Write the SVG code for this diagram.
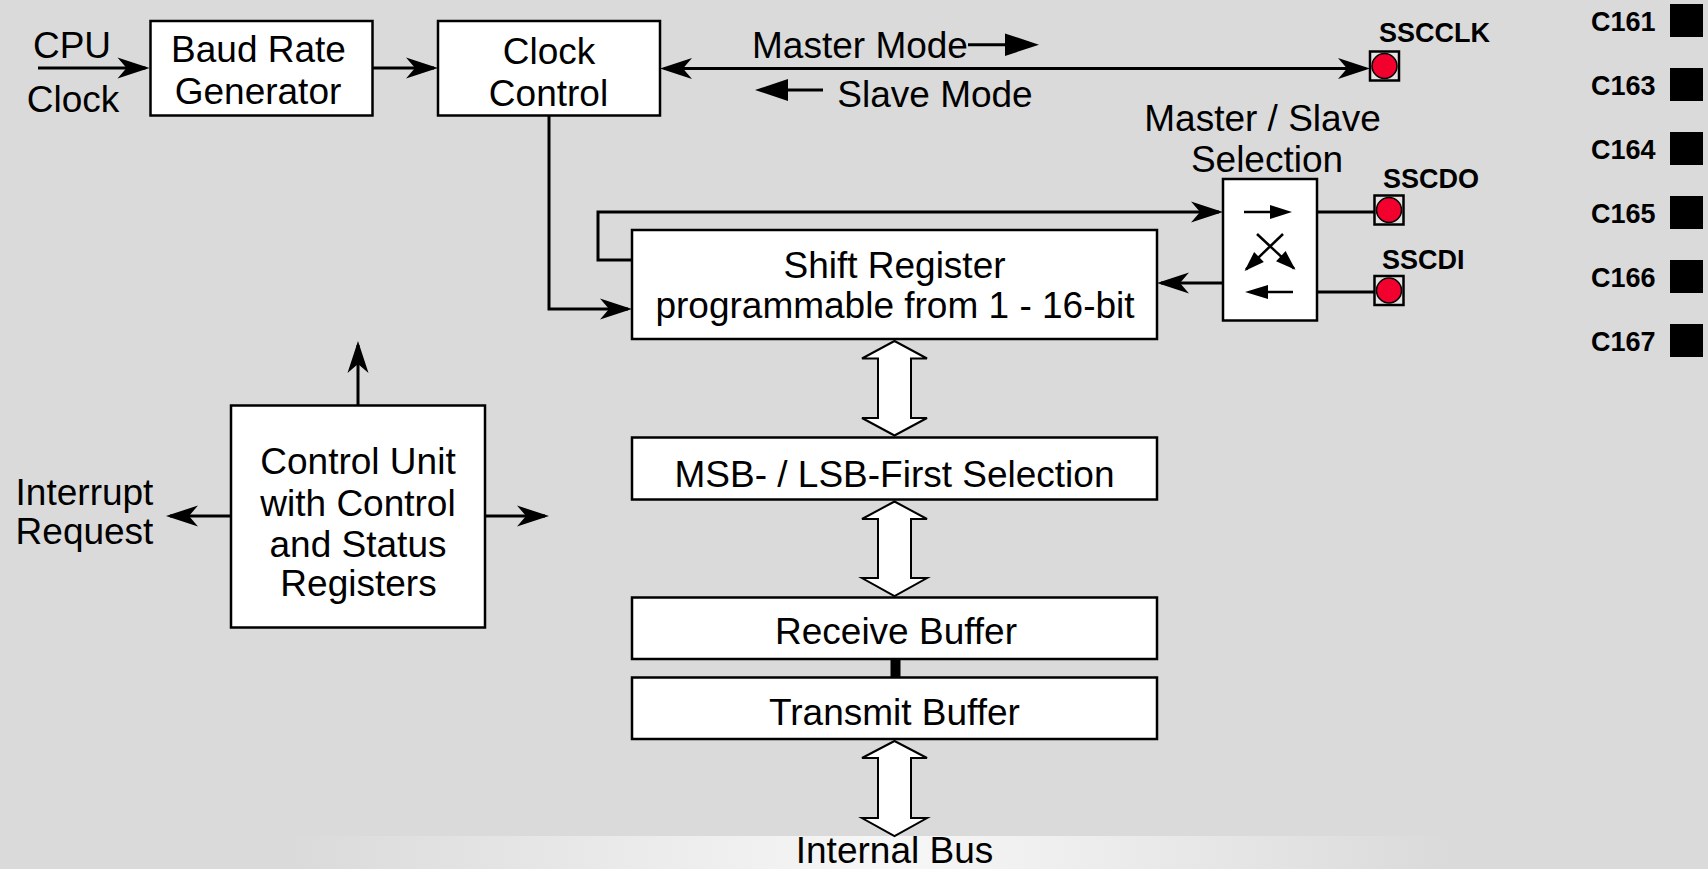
<svg xmlns="http://www.w3.org/2000/svg" width="1708" height="869" viewBox="0 0 1708 869">
  <style>
    .box { fill: #ffffff; stroke: #000000; stroke-width: 2.5; }
    .lbl { font-family: "Liberation Sans", Arial, sans-serif; font-size: 37px; fill: #000000; text-anchor: middle; }
    .pinlbl { font-family: "Liberation Sans", Arial, sans-serif; font-size: 27px; font-weight: bold; fill: #000000; }
    .devlbl { font-family: "Liberation Sans", Arial, sans-serif; font-size: 27px; font-weight: bold; fill: #000000; }
    .wire { fill: none; stroke: #000000; stroke-width: 3; }
    .thin { fill: none; stroke: #000000; stroke-width: 2.5; }
    .bus { fill: #ffffff; stroke: #000000; stroke-width: 2; stroke-linejoin: miter; }
    .pad { fill: #e4e4e4; stroke: #000000; stroke-width: 2.5; }
    .dot { fill: #f2002e; stroke: #000000; stroke-width: 1.5; }
  </style>
  <defs>
    <!-- barbed arrowhead; tip sits 4 units past the line end -->
    <marker id="barb" viewBox="-30 -12 36 24" refX="0" refY="0" markerWidth="36" markerHeight="24" orient="auto-start-reverse" markerUnits="userSpaceOnUse">
      <path d="M4,0 L-28,-10.5 L-19,0 L-28,10.5 Z" fill="#000000"/>
    </marker>
    <marker id="tri" viewBox="-22 -9 26 18" refX="0" refY="0" markerWidth="26" markerHeight="18" orient="auto" markerUnits="userSpaceOnUse">
      <path d="M2,0 L-18,-7 L-18,7 Z" fill="#000000"/>
    </marker>
    <linearGradient id="band" gradientUnits="userSpaceOnUse" x1="290" y1="0" x2="1450" y2="0">
      <stop offset="0" stop-color="#dadada"/>
      <stop offset="0.52" stop-color="#f7f7f7"/>
      <stop offset="1" stop-color="#dadada"/>
    </linearGradient>
  </defs>

  <!-- page background and bus band -->
  <rect x="0" y="0" width="1708" height="869" fill="#dadada"/>
  <rect x="0" y="836" width="1708" height="33" fill="url(#band)"/>

  <!-- connectors -->
  <g id="connectors">
    <path class="wire" d="M38,68 H145.5" marker-end="url(#barb)"/>
    <path class="wire" d="M372.5,68 H434" marker-end="url(#barb)"/>
    <path class="wire" d="M664,68.5 H1366" marker-start="url(#barb)" marker-end="url(#barb)"/>
    <path class="wire" d="M549,115.5 V309 H628" marker-end="url(#barb)"/>
    <path class="wire" d="M631.5,260 H598 V212 H1219" marker-end="url(#barb)"/>
    <path class="wire" d="M1223,283 H1161" marker-end="url(#barb)"/>
    <path class="wire" d="M1317,212 H1374"/>
    <path class="wire" d="M1317,292 H1374"/>
    <path class="wire" d="M358,405.5 V345" marker-end="url(#barb)"/>
    <path class="wire" d="M231,516 H170" marker-end="url(#barb)"/>
    <path class="wire" d="M485,516 H545" marker-end="url(#barb)"/>

    <!-- mode direction hints -->
    <path class="wire" d="M968,44.7 H1006"/>
    <polygon points="1005,33.5 1039,44.7 1005,56" fill="#000000"/>
    <polygon points="755,90 788,79 788,101" fill="#000000"/>
    <path class="wire" d="M788,90 H823"/>

    <!-- hollow bus arrows -->
    <polygon class="bus" points="894.5,341 927,358.5 911,358.5 911,418 927,418 894.5,435.5 862,418 878,418 878,358.5 862,358.5"/>
    <polygon class="bus" points="894.5,501.5 927,519 911,519 911,578 927,578 894.5,596 862,578 878,578 878,519 862,519"/>
    <polygon class="bus" points="894.5,741 927,758 911,758 911,818 927,818 894.5,836 862,818 878,818 878,758 862,758"/>

    <!-- receive / transmit buffer link -->
    <rect x="890.5" y="659" width="10" height="18.5" fill="#000000"/>
  </g>

  <!-- blocks -->
  <g id="cpu-clock">
    <text class="lbl" x="72" y="58">CPU</text>
    <text class="lbl" x="73" y="112">Clock</text>
  </g>

  <g id="baud-rate-generator">
    <rect class="box" x="150.5" y="21" width="222" height="94.5"/>
    <text class="lbl" x="258.5" y="62">Baud Rate</text>
    <text class="lbl" x="258" y="104">Generator</text>
  </g>

  <g id="clock-control">
    <rect class="box" x="438" y="21" width="222" height="94.5"/>
    <text class="lbl" x="549" y="64">Clock</text>
    <text class="lbl" x="548.5" y="106">Control</text>
  </g>

  <g id="mode-labels">
    <text class="lbl" x="860" y="58">Master Mode</text>
    <text class="lbl" x="935" y="107">Slave Mode</text>
  </g>

  <g id="master-slave-selection">
    <text class="lbl" x="1262.5" y="130.5">Master / Slave</text>
    <text class="lbl" x="1267" y="171.5">Selection</text>
    <rect class="box" x="1223" y="179" width="94" height="141.5"/>
    <path class="thin" d="M1244,212 H1271"/>
    <polygon points="1270,205 1292,212 1270,219" fill="#000000"/>
    <path class="thin" d="M1257,234 L1294,268.5" marker-end="url(#tri)"/>
    <path class="thin" d="M1283,234 L1246,269.5" marker-end="url(#tri)"/>
    <path class="thin" d="M1293,292 H1267"/>
    <polygon points="1268,285 1245,292 1268,299" fill="#000000"/>
  </g>

  <g id="shift-register">
    <rect class="box" x="632" y="230" width="525" height="109"/>
    <text class="lbl" x="894.5" y="278">Shift Register</text>
    <text class="lbl" x="895" y="318">programmable from 1 - 16-bit</text>
  </g>

  <g id="msb-lsb-selection">
    <rect class="box" x="632" y="437.5" width="525" height="62"/>
    <text class="lbl" x="894.5" y="487">MSB- / LSB-First Selection</text>
  </g>

  <g id="receive-buffer">
    <rect class="box" x="632" y="597.5" width="525" height="61.5"/>
    <text class="lbl" x="896" y="644">Receive Buffer</text>
  </g>

  <g id="transmit-buffer">
    <rect class="box" x="632" y="677.5" width="525" height="61.5"/>
    <text class="lbl" x="894.5" y="725">Transmit Buffer</text>
  </g>

  <g id="internal-bus">
    <text class="lbl" x="894.5" y="863">Internal Bus</text>
  </g>

  <g id="control-unit">
    <rect class="box" x="231" y="405.5" width="254" height="222"/>
    <text class="lbl" x="358" y="474">Control Unit</text>
    <text class="lbl" x="358" y="515.5">with Control</text>
    <text class="lbl" x="358" y="556.5">and Status</text>
    <text class="lbl" x="358.5" y="596">Registers</text>
  </g>

  <g id="interrupt-request">
    <text class="lbl" x="84.5" y="505">Interrupt</text>
    <text class="lbl" x="84.5" y="544">Request</text>
  </g>

  <!-- port pins -->
  <g id="pin-sscclk">
    <rect class="pad" x="1370" y="51.5" width="29" height="29"/>
    <circle class="dot" cx="1384.5" cy="66" r="12.5"/>
    <text class="pinlbl" x="1379" y="41.5">SSCCLK</text>
  </g>

  <g id="pin-sscdo">
    <rect class="pad" x="1374.5" y="195.5" width="29" height="29"/>
    <circle class="dot" cx="1389" cy="210" r="12.5"/>
    <text class="pinlbl" x="1383" y="188">SSCDO</text>
  </g>

  <g id="pin-sscdi">
    <rect class="pad" x="1374.5" y="276" width="29" height="29"/>
    <circle class="dot" cx="1389" cy="290.5" r="12.5"/>
    <text class="pinlbl" x="1382" y="269">SSCDI</text>
  </g>

  <!-- device list -->
  <g id="device-list">
    <text class="devlbl" x="1591" y="30.7">C161</text>
    <rect x="1670" y="4" width="33" height="33" fill="#000000"/>
    <text class="devlbl" x="1591" y="94.7">C163</text>
    <rect x="1670" y="68" width="33" height="33" fill="#000000"/>
    <text class="devlbl" x="1591" y="158.7">C164</text>
    <rect x="1670" y="132" width="33" height="33" fill="#000000"/>
    <text class="devlbl" x="1591" y="222.7">C165</text>
    <rect x="1670" y="196" width="33" height="33" fill="#000000"/>
    <text class="devlbl" x="1591" y="286.7">C166</text>
    <rect x="1670" y="260" width="33" height="33" fill="#000000"/>
    <text class="devlbl" x="1591" y="350.7">C167</text>
    <rect x="1670" y="324" width="33" height="33" fill="#000000"/>
  </g>
</svg>
